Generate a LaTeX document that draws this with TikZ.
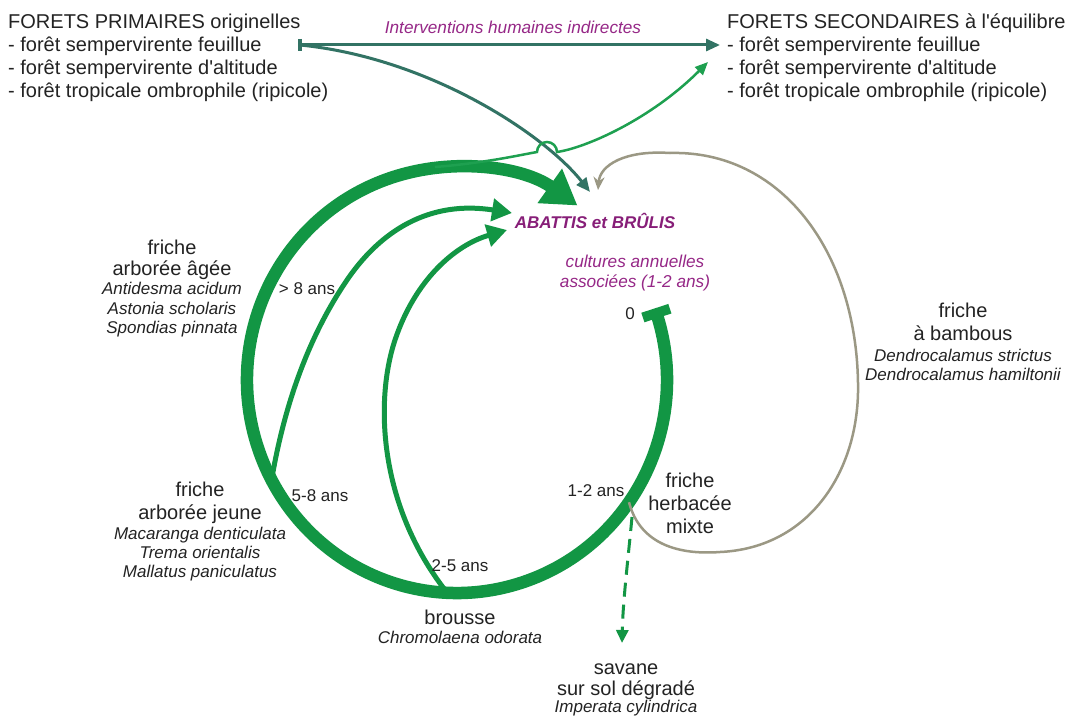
\documentclass[tikz,border=0pt]{standalone}
\usepackage{fontspec}
\setmainfont{Liberation Sans}[Ligatures=TeXOff]
\usetikzlibrary{arrows.meta,calc}
\definecolor{vgreen}{RGB}{18,150,68}
\definecolor{lgreen}{RGB}{30,160,80}
\definecolor{tealc}{RGB}{50,115,100}
\definecolor{loopgray}{RGB}{155,152,132}
\definecolor{purp}{RGB}{150,40,135}
\definecolor{purpd}{RGB}{135,30,120}
\definecolor{txt}{RGB}{35,35,35}
\tikzset{
  main/.style={font=\fontsize{20}{22}\selectfont, text=txt, inner sep=0pt, anchor=base},
  mainL/.style={main, anchor=base west},
  spec/.style={font=\fontsize{17}{19}\selectfont\itshape, text=txt, inner sep=0pt, anchor=base},
  lab/.style={font=\fontsize{17}{19}\selectfont, text=txt, inner sep=0pt, anchor=base},
  pur/.style={font=\fontsize{17.2}{19}\selectfont\itshape, text=purp, inner sep=0pt, anchor=base},
  cyclearc/.style={draw=vgreen, line width=12.5pt},
  thinarr/.style={draw=vgreen, line width=5pt, -{Triangle[length=20pt,width=22pt]}},
  tealarr/.style={draw=tealc, line width=3pt, -{Triangle[length=14pt,width=12pt]}},
  grayarr/.style={draw=loopgray, line width=2.5pt, -{Stealth[length=13pt,width=11pt]}},
}
\begin{document}
\begin{tikzpicture}[x=1pt,y=-1pt]
\useasboundingbox (0,0) rectangle (1076,717);
\fill[white] (0,0) rectangle (1076,717);

% geometry
\coordinate (c) at (457,380);
\coordinate (tT) at ([shift={(c)}]-18.3:210 and 213);
\coordinate (jA) at ([shift={(c)}]152:210 and 213);
\coordinate (jB) at ([shift={(c)}]92.7:210 and 213);
\coordinate (jC) at ([shift={(c)}]35:210 and 213);
\coordinate (gS) at (435,167);
\coordinate (tipA) at (512,213);
\coordinate (tipB) at (507,230);
\coordinate (tipT) at (590,192);
\coordinate (tipG) at (598,190);
\coordinate (tipS) at (708,62);
\coordinate (tipH) at (720,45);
\coordinate (bar) at (300,45);
\coordinate (tipV) at (622,643);
\coordinate (dS) at (632,517);

% main cycle
\draw[cyclearc, -{Triangle[length=34pt,width=40pt]}] (tT) arc[start angle=-18.3, end angle=305, x radius=210, y radius=213];
\draw[draw=vgreen, line width=10pt] ($(tT)+(-13.5,4.4)$) -- ($(tT)+(13.5,-4.4)$);

% thin return arrows
\draw[thinarr] (jA) .. controls (286,395) and (313,331) .. (345,283) .. controls (380,230) and (430,200) .. (tipA);
\draw[thinarr] (jB) .. controls (378,505) and (375,400) .. (395,340) .. controls (415,280) and (455,245) .. (tipB);

% bamboo loop
\draw[grayarr] (jC) .. controls (640,545) and (680,555) .. (720,552) .. controls (810,548) and (860,470) .. (858,383) .. controls (856,250) and (780,150) .. (670,153) .. controls (625,150) and (600,165) .. (tipG);

% teal human interventions
\draw[tealarr] (bar) -- (tipH);
\draw[tealarr] (bar) .. controls (430,58) and (545,135) .. (tipT);
\draw[draw=tealc, line width=3.5pt] ($(bar)+(0,-6)$) -- ($(bar)+(0,6)$);

% green to secondary forests
\draw[draw=lgreen, line width=2.5pt, -{Triangle[length=13pt,width=11pt]}] (gS) .. controls (485,163) and (520,155) .. (537,152) arc[start angle=180, end angle=360, radius=10] .. controls (585,148) and (650,120) .. (tipS);

% degradation to savanna
\draw[draw=vgreen, line width=3pt, dash pattern=on 14pt off 8pt, -{Triangle[length=13pt,width=12pt]}] (dS) .. controls (628,560) and (623,600) .. (tipV);

% texts top
\node[mainL] (fp1) at (8,29) {FORETS PRIMAIRES originelles};
\node[mainL] (fp2) at (8,51.7) {- forêt sempervirente feuillue};
\node[mainL] (fp3) at (8,74.4) {- forêt sempervirente d'altitude};
\node[mainL] (fp4) at (8,97.1) {- forêt tropicale ombrophile (ripicole)};
\node[mainL] (fs1) at (727,29) {FORETS SECONDAIRES à l'équilibre};
\node[mainL] (fs2) at (727,51.7) {- forêt sempervirente feuillue};
\node[mainL] (fs3) at (727,74.4) {- forêt sempervirente d'altitude};
\node[mainL] (fs4) at (727,97.1) {- forêt tropicale ombrophile (ripicole)};
\node[pur] (ih) at (513,34) {Interventions humaines indirectes};

% centre
\node[font=\fontsize{17}{19}\selectfont\bfseries\itshape, text=purpd, inner sep=0pt, anchor=base] (ab) at (595,228) {ABATTIS et BRÛLIS};
\node[pur] (cu1) at (635,267) {cultures annuelles};
\node[pur] (cu2) at (635,287) {associées (1-2 ans)};
\node[lab] (zero) at (630,319) {0};

% friche arboree agee
\node[main] (fa1) at (172,254) {friche};
\node[main] (fa2) at (172,275) {arborée âgée};
\node[spec] (fa3) at (172,294) {Antidesma acidum};
\node[spec] (fa4) at (172,314) {Astonia scholaris};
\node[spec] (fa5) at (172,333) {Spondias pinnata};
\node[lab] (l8) at (307,294) {> 8 ans};

% friche arboree jeune
\node[main] (fj1) at (200,496) {friche};
\node[main] (fj2) at (200,519) {arborée jeune};
\node[spec] (fj3) at (200,539) {Macaranga denticulata};
\node[spec] (fj4) at (200,558) {Trema orientalis};
\node[spec] (fj5) at (200,577) {Mallatus paniculatus};
\node[lab] (l58) at (320,501) {5-8 ans};

% brousse
\node[lab] (l25) at (460,571) {2-5 ans};
\node[main] (br1) at (460,624) {brousse};
\node[spec] (br2) at (460,643) {Chromolaena odorata};

% friche herbacee
\node[lab] (l12) at (596,496) {1-2 ans};
\node[main] (fh1) at (690,487) {friche};
\node[main] (fh2) at (690,510) {herbacée};
\node[main] (fh3) at (690,533) {mixte};

% savane
\node[main] (sv1) at (626,674) {savane};
\node[main] (sv2) at (626,695.5) {sur sol dégradé};
\node[spec] (sv3) at (626,712.5) {Imperata cylindrica};

% bambous
\node[main] (bb1) at (963,317) {friche};
\node[main] (bb2) at (963,340) {à bambous};
\node[spec] (bb3) at (963,361) {Dendrocalamus strictus};
\node[spec] (bb4) at (963,380) {Dendrocalamus hamiltonii};
\end{tikzpicture}
\end{document}
